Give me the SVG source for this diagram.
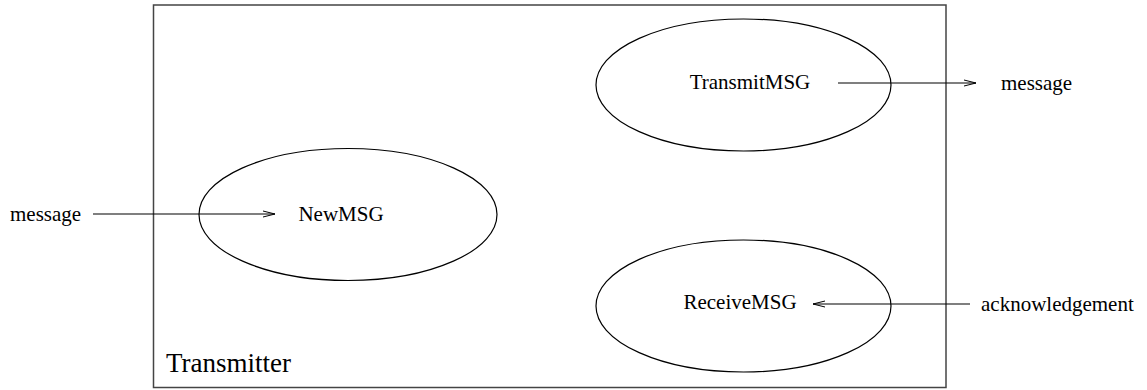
<svg xmlns="http://www.w3.org/2000/svg" width="1147" height="390" viewBox="0 0 1147 390">
<defs>
<marker id="arr" markerWidth="14" markerHeight="8" refX="13" refY="4" orient="auto" markerUnits="userSpaceOnUse">
<path d="M1,1 L13,4 L1,7" fill="none" stroke="#000" stroke-width="1"/>
</marker>
<style>
text{font-family:"Liberation Serif","Times New Roman",serif;fill:#000}
.lbl{font-size:21px}
.node{fill:none;stroke:#000;stroke-width:1.2}
.conn{stroke:#000;stroke-width:1.1;fill:none;marker-end:url(#arr)}
</style>
</defs>
<rect x="153.5" y="5" width="792.5" height="382.5" fill="#fff" stroke="#444" stroke-width="1.5"/>
<text x="166" y="372" style="font-size:27px">Transmitter</text>
<g id="NewMSG">
<ellipse class="node" cx="348" cy="214.5" rx="149" ry="66"/>
<text class="lbl" x="341" y="221" text-anchor="middle">NewMSG</text>
</g>
<g id="TransmitMSG">
<ellipse class="node" cx="743.5" cy="85" rx="147.5" ry="66"/>
<text class="lbl" x="750" y="89" text-anchor="middle">TransmitMSG</text>
</g>
<g id="ReceiveMSG">
<ellipse class="node" cx="743.5" cy="306" rx="147.5" ry="66"/>
<text class="lbl" x="740" y="309" text-anchor="middle">ReceiveMSG</text>
</g>
<g id="connectors">
<line class="conn" x1="93" y1="214" x2="275" y2="214"/>
<line class="conn" x1="838" y1="83" x2="976" y2="83"/>
<line class="conn" x1="970" y1="304" x2="813" y2="304"/>
</g>
<text class="lbl" x="10" y="221">message</text>
<text class="lbl" x="1001" y="90">message</text>
<text class="lbl" x="981" y="311">acknowledgement</text>
</svg>
